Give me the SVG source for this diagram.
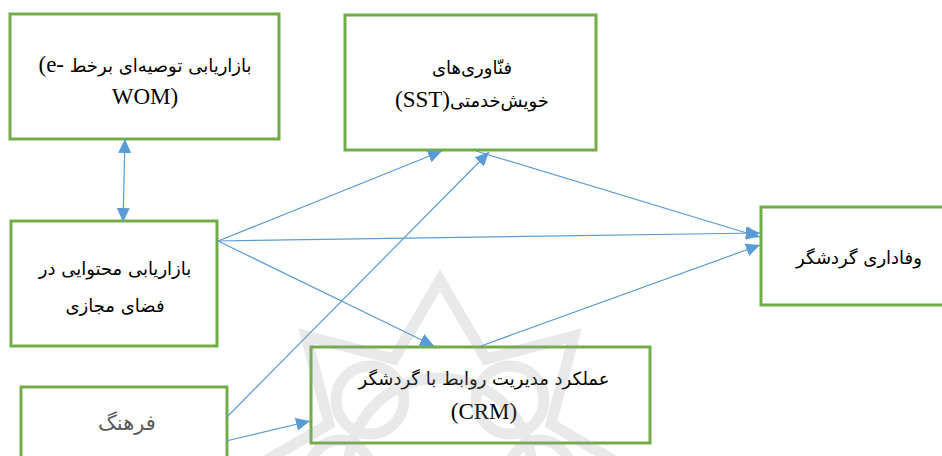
<svg xmlns="http://www.w3.org/2000/svg" width="942" height="456" viewBox="0 0 942 456">
  <style>
    .box { fill: #ffffff; stroke: #70ad47; stroke-width: 3; }
    .lbl { font-family: "DejaVu Sans", "Liberation Serif", sans-serif; font-size: 18px; fill: #000000; text-anchor: middle; }
    .lat { font-family: "Liberation Serif", serif; font-size: 23px; }
    .grey { fill: #595959; font-size: 21px; }
    .conn { stroke: #5b9bd5; stroke-width: 1.2; fill: none; }
    .mark { fill: none; stroke: #9e9e9e; stroke-width: 11; opacity: 0.22; }
  </style>
  <defs>
    <marker id="arrow" markerUnits="userSpaceOnUse" markerWidth="15" markerHeight="13" refX="14" refY="6.5" orient="auto">
      <path d="M0,0 L14,6.5 L0,13 z" fill="#5b9bd5"/>
    </marker>
    <marker id="arrowStart" markerUnits="userSpaceOnUse" markerWidth="15" markerHeight="13" refX="14" refY="6.5" orient="auto-start-reverse">
      <path d="M0,0 L14,6.5 L0,13 z" fill="#5b9bd5"/>
    </marker>
  </defs>

  <rect width="942" height="456" fill="#ffffff"/>

  <!-- nodes -->
  <g id="ewom">
    <rect class="box" x="10" y="14" width="269" height="125"/>
    <text class="lbl" x="145" y="72" direction="ltr"><tspan class="lat">(e- </tspan>بازاریابی توصیه‌ای برخط</text>
    <text class="lbl lat" x="145" y="104">WOM)</text>
  </g>

  <g id="sst">
    <rect class="box" x="345" y="15" width="251" height="135"/>
    <text class="lbl" x="472" y="74">فنّاوری‌های</text>
    <text class="lbl" x="472" y="107" direction="ltr"><tspan class="lat">(SST)</tspan>خویش‌خدمتی</text>
  </g>

  <g id="content">
    <rect class="box" x="11" y="221" width="206" height="125"/>
    <text class="lbl" x="115" y="275">بازاریابی محتوایی در</text>
    <text class="lbl" x="115" y="312">فضای مجازی</text>
  </g>

  <g id="loyalty">
    <rect class="box" x="761" y="207" width="190" height="98"/>
    <text class="lbl" x="859" y="264">وفاداری گردشگر</text>
  </g>

  <g id="crm">
    <rect class="box" x="311" y="347" width="339" height="96"/>
    <text class="lbl" x="484" y="385">عملکرد مدیریت روابط با گردشگر</text>
    <text class="lbl lat" x="484" y="419">(CRM)</text>
  </g>

  <g id="culture">
    <rect class="box" x="21" y="387" width="206" height="90"/>
    <text class="lbl grey" x="127" y="430">فرهنگ</text>
  </g>

  <!-- connectors -->
  <g id="connectors">
    <line class="conn" x1="123" y1="222" x2="125" y2="139" marker-start="url(#arrowStart)" marker-end="url(#arrow)"/>
    <line class="conn" x1="218" y1="241" x2="442" y2="151" marker-end="url(#arrow)"/>
    <line class="conn" x1="218" y1="241" x2="760" y2="233" marker-end="url(#arrow)"/>
    <line class="conn" x1="218" y1="241" x2="434" y2="346" marker-end="url(#arrow)"/>
    <line class="conn" x1="227" y1="417" x2="489" y2="152" marker-end="url(#arrow)"/>
    <line class="conn" x1="226" y1="441" x2="310" y2="421" marker-end="url(#arrow)"/>
    <line class="conn" x1="476" y1="151" x2="760" y2="237" marker-end="url(#arrow)"/>
    <line class="conn" x1="481" y1="346" x2="760" y2="245" marker-end="url(#arrow)"/>
  </g>

  <!-- faint rosette watermark in the lower middle -->
  <g id="watermark" class="mark">
    <path d="M440,280 L486,359 L574,336 L551,424 L630,470 L551,516 L574,604 L486,581 L440,660 L394,581 L306,604 L329,516 L250,470 L329,424 L306,336 L394,359 Z"/>
    <circle cx="440" cy="470" r="92"/>
    <circle cx="370" cy="400" r="34"/>
    <circle cx="510" cy="400" r="34"/>
    <circle cx="340" cy="470" r="30"/>
    <circle cx="540" cy="470" r="30"/>
  </g>
</svg>
